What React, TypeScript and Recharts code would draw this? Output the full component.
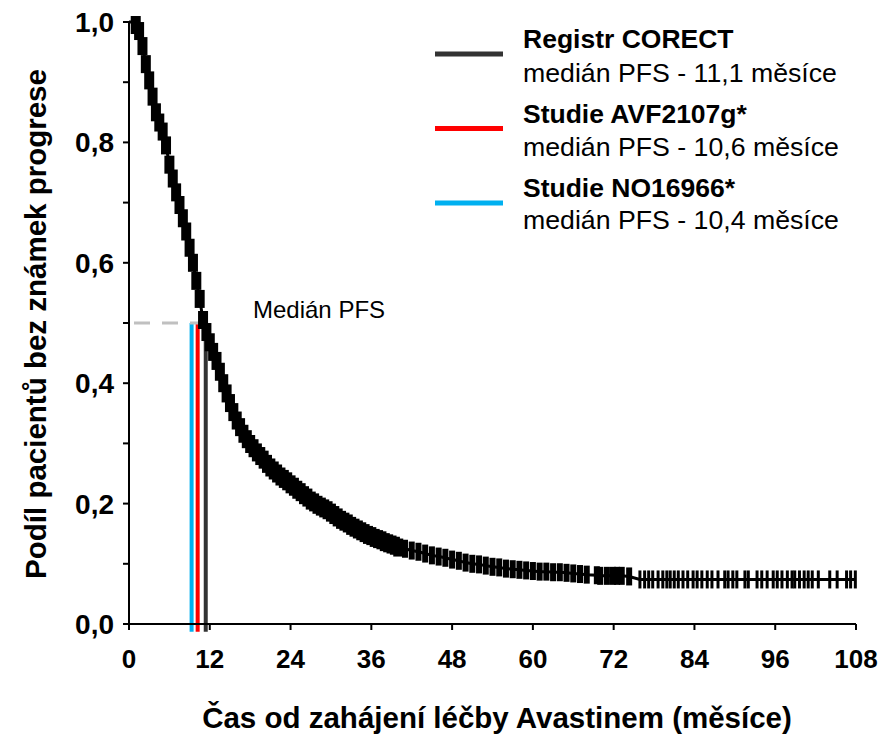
import React from 'react'
import { LineChart, Line, XAxis, YAxis, ReferenceLine } from 'recharts'

// Kaplan-Meier PFS curve (months -> share without progression)
const months = [
  0, 0.5, 1, 1.5, 2, 2.5, 3, 3.5, 4, 4.5,
  5, 5.5, 6, 6.5, 7, 7.5, 8, 8.5, 9, 9.5,
  10, 10.5, 11, 11.5, 12, 12.5, 13, 13.5, 14, 14.5,
  15, 15.5, 16, 16.5, 17, 17.5, 18, 18.5, 19, 19.5,
  20, 20.5, 21, 21.5, 22, 22.5, 23, 23.5, 24, 24.5,
  25, 25.5, 26, 26.5, 27, 27.5, 28, 28.5, 29, 29.5,
  30, 30.5, 31, 31.5, 32, 32.5, 33, 33.5, 34, 34.5,
  35, 35.5, 36, 36.5, 37, 37.5, 38, 38.5, 39, 39.5,
  40, 41, 42, 43, 44, 45, 46, 47, 48, 49,
  50, 51, 52, 53, 54, 55, 56, 57, 58, 59,
  60, 61, 62, 63, 64, 65, 66, 67, 68, 69.5,
  70, 71, 71.9, 72.5, 73.2, 74.3, 75.9, 76.6, 77.2, 77.8,
  78.6, 79.3, 79.9, 80.4, 81, 81.6, 82.3, 83, 83.8, 84.4,
  85.1, 85.9, 86.6, 87.5, 88.5, 89, 89.7, 90.3, 91.5, 92,
  93.3, 94, 94.8, 95.7, 96.3, 97, 97.8, 98.5, 98.9, 99.6,
  100.3, 100.9, 101.5, 102.4, 104.1, 105.2, 106.6, 107.2, 107.9,
]

const survival = [
  1.0, 1.0, 0.995, 0.985, 0.96, 0.93, 0.903, 0.876, 0.85, 0.833,
  0.818, 0.795, 0.763, 0.74, 0.717, 0.696, 0.674, 0.652, 0.625, 0.6,
  0.57, 0.54, 0.505, 0.485, 0.468, 0.452, 0.437, 0.419, 0.4, 0.383,
  0.367, 0.352, 0.338, 0.327, 0.316, 0.307, 0.299, 0.292, 0.285, 0.279,
  0.273, 0.266, 0.26, 0.255, 0.25, 0.245, 0.241, 0.237, 0.232, 0.228,
  0.223, 0.219, 0.214, 0.21, 0.205, 0.202, 0.198, 0.195, 0.192, 0.189,
  0.185, 0.181, 0.177, 0.173, 0.17, 0.167, 0.163, 0.16, 0.157, 0.154,
  0.151, 0.148, 0.146, 0.143, 0.141, 0.139, 0.136, 0.134, 0.132, 0.13,
  0.127, 0.125, 0.122, 0.12, 0.117, 0.114, 0.112, 0.11, 0.107, 0.105,
  0.102, 0.1, 0.099, 0.097, 0.095, 0.094, 0.092, 0.091, 0.09, 0.089,
  0.088, 0.087, 0.087, 0.086, 0.086, 0.085, 0.084, 0.083, 0.082, 0.081,
  0.08, 0.08, 0.08, 0.08, 0.08, 0.079, 0.074, 0.074, 0.074, 0.074,
  0.074, 0.074, 0.074, 0.074, 0.074, 0.074, 0.074, 0.074, 0.074, 0.074,
  0.074, 0.074, 0.074, 0.074, 0.074, 0.074, 0.074, 0.074, 0.074, 0.074,
  0.074, 0.074, 0.074, 0.074, 0.074, 0.074, 0.074, 0.074, 0.074, 0.074,
  0.074, 0.074, 0.074, 0.074, 0.074, 0.074, 0.074, 0.074, 0.074,
]

const xTicks = [0, 12, 24, 36, 48, 60, 72, 84, 96, 108]
const yTicks = [0, 0.1, 0.2, 0.3, 0.4, 0.5, 0.6, 0.7, 0.8, 0.9, 1.0]

// median PFS markers (position as drawn in the picture)
const medianNames = ['Registr CORECT', 'Studie AVF2107g*', 'Studie NO16966*']
const medianTexts = ['medián PFS - 11,1 měsíce', 'medián PFS - 10,6 měsíce', 'medián PFS - 10,4 měsíce']
const medianMonths = [11.4, 10.2, 9.3]
const medianColors = ['#333333', '#ff0000', '#00b0f0']

const FONT = '"Liberation Sans", Arial, sans-serif'

const rows = months.map((t, i) => ({ t, s: survival[i] }))

// censoring ticks: crowded early on, sparse and thin in the tail
function CensorTick(props: any) {
  const { cx, cy, payload, index } = props
  if (cx == null || payload.s >= 0.999) return <g key={`c${index}`} />
  const w = payload.t <= 40 ? 10 : payload.t < 75 ? 6 : 3
  return <rect key={`c${index}`} x={cx - w / 2} y={cy - 9} width={w} height={18} fill="#000" />
}

function XTick({ x, y, payload }: any) {
  return (
    <text x={x} y={y + 36} textAnchor="middle" fontFamily={FONT} fontWeight="bold" fontSize={26} fill="#000">
      {payload.value}
    </text>
  )
}

function YTick({ x, y, payload }: any) {
  const v = payload.value
  if (Math.round(v * 10) % 2 !== 0) return <g />
  return (
    <text x={x - 7} y={y + 10} textAnchor="end" fontFamily={FONT} fontWeight="bold" fontSize={28} fill="#000">
      {v.toFixed(1).replace('.', ',')}
    </text>
  )
}

export default function App() {
  return (
    <div style={{ position: 'absolute', left: 0, top: 0, width: 885, height: 738, background: '#fff' }}>
      <LineChart width={885} height={738} data={rows} margin={{ top: 22, right: 29, left: 0, bottom: 0 }}>
        <XAxis
          dataKey="t"
          type="number"
          domain={[0, 108]}
          ticks={xTicks}
          height={114}
          tickSize={6}
          axisLine={{ stroke: '#000', strokeWidth: 2 }}
          tickLine={{ stroke: '#000', strokeWidth: 2 }}
          tick={<XTick />}
          interval={0}
        />
        <YAxis
          type="number"
          domain={[0, 1]}
          ticks={yTicks}
          width={129}
          tickSize={6}
          axisLine={{ stroke: '#000', strokeWidth: 2 }}
          tickLine={{ stroke: '#000', strokeWidth: 2 }}
          tick={<YTick />}
          interval={0}
        />
        <Line
          dataKey="s"
          type="linear"
          stroke="#000"
          strokeWidth={3}
          dot={CensorTick}
          activeDot={false}
          isAnimationActive={false}
        />
        {medianMonths.map((m, i) => (
          <ReferenceLine
            key={medianNames[i]}
            segment={[{ x: m, y: -0.013 }, { x: m, y: 0.5 }]}
            stroke={medianColors[i]}
            strokeWidth={4}
            ifOverflow="visible"
          />
        ))}
        <ReferenceLine
          segment={[{ x: 0, y: 0.5 }, { x: medianMonths[0], y: 0.5 }]}
          stroke="#c0c0c0"
          strokeWidth={3}
          strokeDasharray="0 5 16 12 16 12 16 12"
        />
      </LineChart>

      <svg width={885} height={738} style={{ position: 'absolute', left: 0, top: 0, pointerEvents: 'none' }}>
        <text
          x={46}
          y={324}
          transform="rotate(-90 46 324)"
          textAnchor="middle"
          fontFamily={FONT}
          fontWeight="bold"
          fontSize={29.5}
          fill="#000"
        >
          Podíl pacientů bez známek progrese
        </text>
        <text x={497} y={728} textAnchor="middle" fontFamily={FONT} fontWeight="bold" fontSize={29.5} fill="#000">
          Čas od zahájení léčby Avastinem (měsíce)
        </text>
        <text x={253} y={318} fontFamily={FONT} fontSize={24} fill="#000">
          Medián PFS
        </text>
        {medianNames.map((name, i) => (
          <g key={name}>
            <rect x={435} y={51.5 + i * 74.5} width={68} height={5} fill={medianColors[i]} />
            <text x={523} y={48 + i * 74.5} fontFamily={FONT} fontWeight="bold" fontSize={26.5} fill="#000">
              {name}
            </text>
            <text x={523} y={82 + i * 73.5} fontFamily={FONT} fontSize={26.7} fill="#000">
              {medianTexts[i]}
            </text>
          </g>
        ))}
      </svg>
    </div>
  )
}
